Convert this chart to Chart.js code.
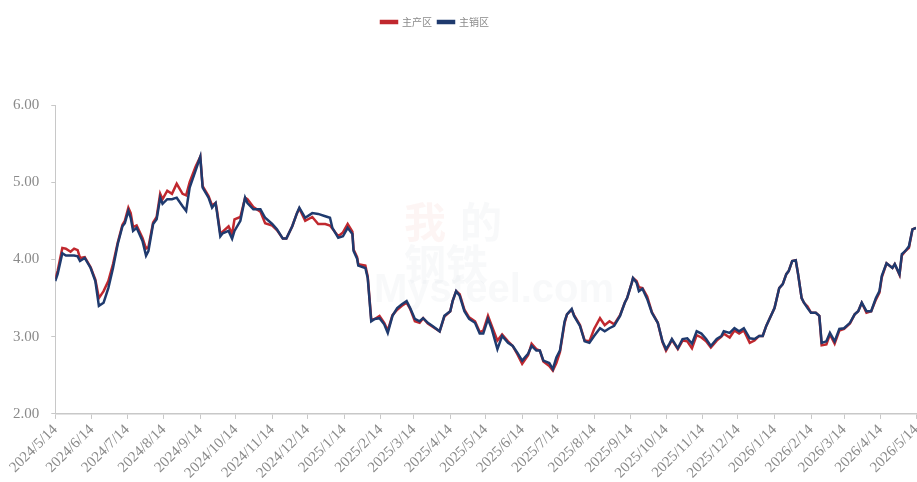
<!DOCTYPE html>
<html>
<head>
<meta charset="utf-8">
<script src="https://cdn.jsdelivr.net/npm/chart.js@4.4.1/dist/chart.umd.min.js"></script>
<style>
html, body { margin: 0; padding: 0; background: #fff; }
</style>
</head>
<body>
<canvas id="chart" width="917" height="482"></canvas>
<script>
// month ticks on the x axis
const tickLabels = ['2024/5/14', '2024/6/14', '2024/7/14', '2024/8/14', '2024/9/14', '2024/10/14',
    '2024/11/14', '2024/12/14', '2025/1/14', '2025/2/14', '2025/3/14', '2025/4/14', '2025/5/14',
    '2025/6/14', '2025/7/14', '2025/8/14', '2025/9/14', '2025/10/14', '2025/11/14', '2025/12/14',
    '2026/1/14', '2026/2/14', '2026/3/14', '2026/4/14', '2026/5/14'];

// days after 2024/5/14 for each sample
const days = [0, 2, 6, 9, 13, 16, 19, 21, 25, 30,
    34, 37, 41, 45, 49, 53, 57, 59, 62, 64,
    66, 69, 74, 77, 79, 83, 86, 89, 91, 95,
    99, 103, 108, 111, 114, 119, 123, 125, 130, 133,
    136, 137, 140, 142, 147, 150, 152, 157, 161, 163,
    168, 174, 178, 184, 188, 193, 196, 201, 205, 207,
    212, 218, 223, 229, 233, 235, 240, 244, 248, 252,
    253, 256, 257, 263, 265, 268, 271, 275, 279, 282,
    286, 290, 294, 298, 301, 305, 309, 312, 316, 320,
    326, 330, 335, 337, 340, 343, 347, 351, 356, 360,
    363, 367, 370, 375, 379, 384, 388, 392, 396, 401,
    404, 408, 411, 414, 419, 422, 425, 428, 432, 434,
    438, 440, 445, 449, 453, 457, 462, 466, 470, 474,
    479, 483, 485, 489, 490, 493, 495, 498, 502, 506,
    511, 515, 518, 521, 523, 528, 532, 536, 540, 544,
    548, 552, 556, 561, 565, 567, 572, 576, 580, 584,
    589, 593, 597, 600, 603, 606, 610, 614, 617, 620,
    622, 625, 628, 630, 633, 635, 638, 641, 645, 648,
    650, 654, 657, 661, 665, 669, 674, 678, 681, 684,
    688, 692, 696, 699, 701, 705, 710, 712, 716, 718,
    721, 724, 727, 730];

// 主产区
const mainProd = [3.75, 3.85, 4.15, 4.14, 4.10, 4.14, 4.12, 4.02, 4.03, 3.90,
    3.74, 3.50, 3.59, 3.72, 3.94, 4.22, 4.45, 4.50, 4.67, 4.60,
    4.42, 4.44, 4.28, 4.14, 4.16, 4.48, 4.55, 4.85, 4.78, 4.89,
    4.85, 4.98, 4.85, 4.83, 5.00, 5.20, 5.33, 4.95, 4.82, 4.70,
    4.73, 4.65, 4.33, 4.36, 4.43, 4.33, 4.52, 4.55, 4.80, 4.78,
    4.68, 4.62, 4.47, 4.44, 4.38, 4.27, 4.27, 4.43, 4.60, 4.66,
    4.50, 4.55, 4.46, 4.46, 4.44, 4.40, 4.30, 4.35, 4.46, 4.36,
    4.13, 4.03, 3.94, 3.92, 3.78, 3.22, 3.23, 3.27, 3.18, 3.08,
    3.28, 3.35, 3.40, 3.44, 3.36, 3.20, 3.18, 3.24, 3.17, 3.13,
    3.07, 3.26, 3.33, 3.46, 3.59, 3.55, 3.35, 3.25, 3.20, 3.06,
    3.08, 3.27, 3.15, 2.95, 3.03, 2.94, 2.88, 2.77, 2.65, 2.76,
    2.91, 2.84, 2.82, 2.68, 2.62, 2.56, 2.66, 2.80, 3.18, 3.29,
    3.35, 3.28, 3.15, 2.95, 2.94, 3.10, 3.24, 3.15, 3.20, 3.16,
    3.28, 3.44, 3.50, 3.70, 3.76, 3.72, 3.64, 3.63, 3.52, 3.32,
    3.18, 2.93, 2.82, 2.90, 2.96, 2.84, 2.95, 2.94, 2.85, 3.02,
    2.99, 2.94, 2.86, 2.95, 3.00, 3.04, 2.99, 3.08, 3.04, 3.08,
    2.92, 2.95, 3.01, 3.01, 3.14, 3.24, 3.37, 3.63, 3.68, 3.81,
    3.85, 3.98, 3.99, 3.81, 3.50, 3.44, 3.39, 3.31, 3.31, 3.27,
    2.89, 2.90, 3.03, 2.91, 3.08, 3.10, 3.17, 3.29, 3.33, 3.44,
    3.31, 3.33, 3.48, 3.57, 3.77, 3.95, 3.89, 3.94, 3.80, 4.05,
    4.11, 4.15, 4.39, 4.41];

// 主销区
const mainSales = [3.72, 3.81, 4.08, 4.05, 4.05, 4.05, 4.04, 3.98, 4.02, 3.89,
    3.72, 3.40, 3.44, 3.63, 3.89, 4.20, 4.43, 4.47, 4.63, 4.54,
    4.37, 4.41, 4.24, 4.05, 4.11, 4.46, 4.52, 4.80, 4.72, 4.78,
    4.78, 4.80, 4.69, 4.63, 4.93, 5.15, 5.33, 4.93, 4.80, 4.67,
    4.73, 4.63, 4.30, 4.34, 4.37, 4.27, 4.37, 4.50, 4.80, 4.73,
    4.65, 4.65, 4.54, 4.46, 4.39, 4.27, 4.27, 4.43, 4.60, 4.67,
    4.54, 4.60, 4.59, 4.56, 4.54, 4.41, 4.28, 4.30, 4.41, 4.33,
    4.11, 4.01, 3.92, 3.89, 3.76, 3.20, 3.23, 3.24, 3.16, 3.05,
    3.27, 3.37, 3.42, 3.46, 3.37, 3.23, 3.20, 3.24, 3.18, 3.14,
    3.07, 3.27, 3.33, 3.46, 3.59, 3.53, 3.33, 3.23, 3.18, 3.04,
    3.04, 3.23, 3.11, 2.84, 3.01, 2.92, 2.88, 2.79, 2.69, 2.78,
    2.88, 2.82, 2.82, 2.69, 2.66, 2.58, 2.73, 2.82, 3.20, 3.29,
    3.36, 3.27, 3.14, 2.94, 2.92, 3.01, 3.11, 3.07, 3.11, 3.14,
    3.27, 3.44, 3.50, 3.70, 3.76, 3.70, 3.59, 3.62, 3.49, 3.31,
    3.18, 2.94, 2.84, 2.91, 2.97, 2.85, 2.97, 2.98, 2.91, 3.07,
    3.04, 2.97, 2.88, 2.97, 3.01, 3.07, 3.05, 3.11, 3.07, 3.11,
    2.98, 2.97, 3.01, 3.01, 3.14, 3.24, 3.37, 3.63, 3.68, 3.81,
    3.85, 3.98, 3.99, 3.81, 3.50, 3.44, 3.37, 3.31, 3.31, 3.27,
    2.92, 2.94, 3.05, 2.94, 3.10, 3.11, 3.18, 3.29, 3.33, 3.44,
    3.33, 3.33, 3.50, 3.59, 3.79, 3.95, 3.89, 3.94, 3.81, 4.07,
    4.11, 4.17, 4.39, 4.41];

const yTicks = [2, 3, 4, 5, 6];

const base = Date.UTC(2024, 4, 14);
const tickDays = tickLabels.map(s => {
    const p = s.split('/').map(Number);
    return Math.round((Date.UTC(p[0], p[1] - 1, p[2]) - base) / 86400000);
});

function toPoints(vals) {
    return vals.map((v, i) => ({ x: days[i], y: v }));
}

Chart.defaults.font.family = "'Liberation Serif', 'Times New Roman', serif";
Chart.defaults.color = '#8a8a8a';

// push the plot down under the legend, nudge legend left
const legendSpace = {
    id: 'legendSpace',
    beforeInit(chart) {
        const fit = chart.legend.fit;
        chart.legend.fit = function () {
            fit.bind(chart.legend)();
            this.height = 94;
        };
    },
    afterUpdate(chart) {
        const lg = chart.legend;
        if (!lg || !lg.legendHitBoxes.length) return;
        const d = 381 - lg.legendHitBoxes[0].left;
        lg.left += d;
        lg.right += d;
    }
};

// faint site watermark
const watermark = {
    id: 'watermark',
    beforeDatasetsDraw(chart) {
        const c = chart.ctx;
        c.save();
        c.textAlign = 'left';
        c.textBaseline = 'alphabetic';
        c.font = "bold 42px 'Noto Sans CJK SC'";
        c.fillStyle = 'rgba(225, 120, 100, 0.07)';
        c.fillText('我', 404, 238);
        c.fillStyle = 'rgba(150, 165, 190, 0.07)';
        c.fillText('的', 460, 238);
        c.fillText('钢铁', 404, 280);
        c.font = "bold 40px 'Liberation Sans'";
        c.fillText('Mysteel.com', 374, 302);
        c.restore();
    }
};

new Chart(document.getElementById('chart'), {
    type: 'line',
    data: {
        datasets: [{
            label: '主产区',
            data: toPoints(mainProd),
            borderColor: '#c0282e',
            backgroundColor: '#c0282e',
            borderWidth: 2.5,
            pointRadius: 0,
            tension: 0,
            order: 2
        }, {
            label: '主销区',
            data: toPoints(mainSales),
            borderColor: '#1f3a6e',
            backgroundColor: '#1f3a6e',
            borderWidth: 2.5,
            pointRadius: 0,
            tension: 0,
            order: 1
        }]
    },
    options: {
        responsive: false,
        animation: false,
        layout: { padding: { top: 11, left: 1, right: 0, bottom: -2 } },
        plugins: {
            legend: {
                reverse: true,
                labels: {
                    boxWidth: 16,
                    boxHeight: 2,
                    padding: 6,
                    color: '#8a8a8a',
                    font: { family: "'Noto Sans CJK SC'", size: 10 }
                }
            },
            tooltip: { enabled: false }
        },
        scales: {
            x: {
                type: 'linear',
                min: 0,
                max: 730,
                afterBuildTicks: scale => {
                    scale.ticks = tickDays.map(v => ({ value: v }));
                },
                afterFit: scale => {
                    scale.paddingRight = 1;
                },
                ticks: {
                    autoSkip: false,
                    maxRotation: 45,
                    minRotation: 45,
                    padding: 2,
                    font: { size: 15 },
                    callback: (v, i) => tickLabels[i]
                },
                grid: { drawOnChartArea: false, tickLength: 5, color: '#c8c8c8' },
                border: { color: '#c8c8c8', width: 1.5 }
            },
            y: {
                min: 2,
                max: 6,
                afterBuildTicks: scale => {
                    scale.ticks = yTicks.map(v => ({ value: v }));
                },
                ticks: {
                    padding: 12,
                    font: { size: 15 },
                    callback: v => v.toFixed(2)
                },
                grid: { drawOnChartArea: false, tickLength: 4, color: '#c8c8c8' },
                border: { color: '#c8c8c8', width: 1 }
            }
        }
    },
    plugins: [legendSpace, watermark]
});
</script>
</body>
</html>
